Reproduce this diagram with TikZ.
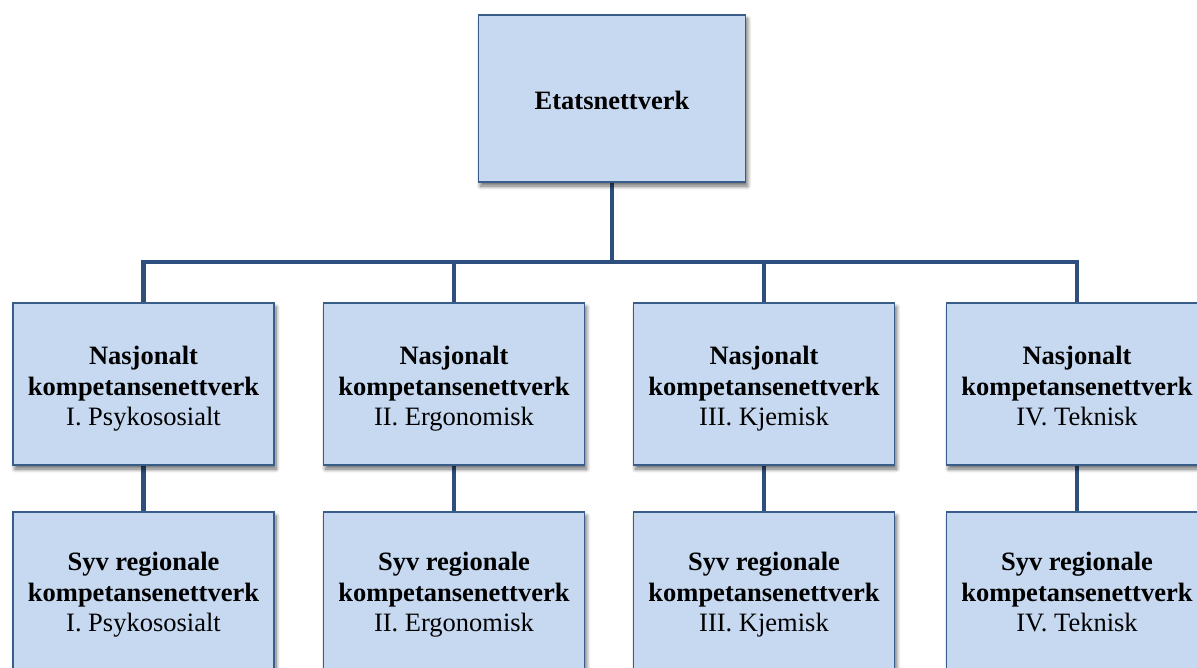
\documentclass[tikz,border=0pt]{standalone}
\usepackage{fontspec}
\setmainfont{Liberation Serif}
\usetikzlibrary{backgrounds,shadows.blur}
\definecolor{boxfill}{HTML}{C6D9F1}
\definecolor{boxedge}{HTML}{385D8A}
\definecolor{linkcol}{HTML}{2C4F7E}
\newcommand{\dline}{\vphantom{y}}
\tikzset{
  orgbox/.style={draw=boxedge, line width=1.8pt, fill=boxfill, inner sep=0pt,
    minimum width=261pt, minimum height=162pt,
    blur shadow={shadow xshift=2pt, shadow yshift=-4pt, shadow blur steps=8,
      shadow blur radius=4pt, shadow opacity=60}},
  topbox/.style={orgbox, minimum width=267pt, minimum height=167pt},
  boxtext/.style={align=center, inner sep=0pt, yshift=-5pt,
    font=\fontsize{26.5}{30.5}\selectfont},
  lowtext/.style={boxtext, yshift=3pt},
  link/.style={draw=linkcol, line width=4.5pt}
}
\begin{document}
\begin{tikzpicture}[x=1pt, y=-1pt]
\useasboundingbox (0,0) rectangle (1197,668);
\path[clip] (0,0) rectangle (1197,668);

% top level
\node[topbox, label={[boxtext, yshift=3pt]center:\textbf{Etatsnettverk}}] (top) at (612,98.5) {};

% national networks
\node[orgbox, label={[boxtext]center:\textbf{Nasjonalt}\\ \textbf{kompetansenettverk}\\ I. Psykososialt\dline}] (n1) at (143.5,384) {};
\node[orgbox, label={[boxtext]center:\textbf{Nasjonalt}\\ \textbf{kompetansenettverk}\\ II. Ergonomisk\dline}] (n2) at (454,384) {};
\node[orgbox, label={[boxtext]center:\textbf{Nasjonalt}\\ \textbf{kompetansenettverk}\\ III. Kjemisk\dline}] (n3) at (764,384) {};
\node[orgbox, label={[boxtext]center:\textbf{Nasjonalt}\\ \textbf{kompetansenettverk}\\ IV. Teknisk\dline}] (n4) at (1077,384) {};

% regional networks
\node[orgbox, label={[lowtext]center:\textbf{Syv regionale}\\ \textbf{kompetansenettverk}\\ I. Psykososialt\dline}] (r1) at (143.5,593) {};
\node[orgbox, label={[lowtext]center:\textbf{Syv regionale}\\ \textbf{kompetansenettverk}\\ II. Ergonomisk\dline}] (r2) at (454,593) {};
\node[orgbox, label={[lowtext]center:\textbf{Syv regionale}\\ \textbf{kompetansenettverk}\\ III. Kjemisk\dline}] (r3) at (764,593) {};
\node[orgbox, label={[lowtext]center:\textbf{Syv regionale}\\ \textbf{kompetansenettverk}\\ IV. Teknisk\dline}] (r4) at (1077,593) {};

\coordinate (hub) at (612,262);

\begin{scope}[on background layer]
  \draw[link] (top.south) -- (hub);
  \draw[link] (hub) -| (n1.north);
  \draw[link] (hub) -| (n2.north);
  \draw[link] (hub) -| (n3.north);
  \draw[link] (hub) -| (n4.north);
  \draw[link] (n1.south) -- (r1.north);
  \draw[link] (n2.south) -- (r2.north);
  \draw[link] (n3.south) -- (r3.north);
  \draw[link] (n4.south) -- (r4.north);
\end{scope}
\end{tikzpicture}
\end{document}
